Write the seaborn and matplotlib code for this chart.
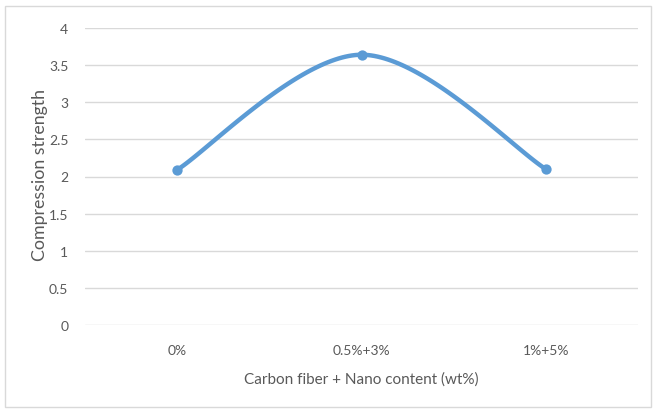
import numpy as np
import pandas as pd
import matplotlib
matplotlib.use("Agg")
import matplotlib.pyplot as plt
import seaborn as sns

# Data
categories = ["0%", "0.5%+3%", "1%+5%"]
strength = [2.09, 3.64, 2.10]
y_ticks = [0, 0.5, 1, 1.5, 2, 2.5, 3, 3.5, 4]

sns.set_theme(style="white")
plt.rcParams["font.family"] = ["Lato", "DejaVu Sans"]

BLUE = "#5B9BD5"
GRID = "#D9D9D9"
TEXT = "#595959"


def smooth_curve(xs, ys, n=60):
    """Cubic Bezier smoothing through the points (spreadsheet-style)."""
    pts = np.column_stack([xs, ys]).astype(float)
    out = []
    for i in range(len(pts) - 1):
        p0 = pts[i - 1] if i > 0 else pts[i]
        p1 = pts[i]
        p2 = pts[i + 1]
        p3 = pts[i + 2] if i + 2 < len(pts) else pts[i + 1]
        c1 = p1 + (p2 - p0) / 6.0
        c2 = p2 - (p3 - p1) / 6.0
        t = np.linspace(0, 1, n)[:, None]
        seg = ((1 - t) ** 3) * p1 + 3 * ((1 - t) ** 2) * t * c1 + 3 * (1 - t) * t ** 2 * c2 + t ** 3 * p2
        out.append(seg if i == 0 else seg[1:])
    return np.vstack(out)


x_pos = np.arange(len(categories))
curve = smooth_curve(x_pos, strength)
curve_df = pd.DataFrame({"x": curve[:, 0], "y": curve[:, 1]})
point_df = pd.DataFrame({"x": x_pos, "y": strength})

fig = plt.figure(figsize=(6.55, 4.1), dpi=100)
ax = fig.add_axes([85 / 655, 1 - 326 / 410, (638 - 85) / 655, (326 - 29) / 410])

sns.lineplot(data=curve_df, x="x", y="y", sort=False, color=BLUE, lw=3.2,
             ax=ax, zorder=3, solid_capstyle="round")
sns.scatterplot(data=point_df, x="x", y="y", color=BLUE, s=55, edgecolor=BLUE,
                linewidth=0, ax=ax, zorder=4)

ax.set_xlim(-0.5, len(categories) - 0.5)
ax.set_ylim(0, 4)
ax.set_yticks(y_ticks)
ax.set_yticklabels([f"{v:g}" for v in y_ticks])
ax.set_xticks(x_pos)
ax.set_xticklabels(categories)

ax.grid(axis="y", color=GRID, lw=1.0)
ax.grid(axis="x", visible=False)
for s in ax.spines.values():
    s.set_visible(False)
ax.tick_params(axis="both", length=0, labelsize=10, colors=TEXT)
ax.tick_params(axis="y", pad=12)
ax.tick_params(axis="x", pad=14)

ax.set_xlabel("Carbon fiber + Nano content (wt%)", fontsize=11, color=TEXT, labelpad=11)
ax.set_ylabel("Compression strength", fontsize=12.8, color=TEXT)
ax.yaxis.set_label_coords(-(85 - 48) / 553, 0.51)

# Chart-area border
fig.patches.append(plt.Rectangle((5 / 655, 2 / 410), 646 / 655, 401 / 410,
                                 transform=fig.transFigure, fill=False,
                                 edgecolor="#D9D9D9", lw=1.0))

fig.savefig("out.png", dpi=100, facecolor="white")
